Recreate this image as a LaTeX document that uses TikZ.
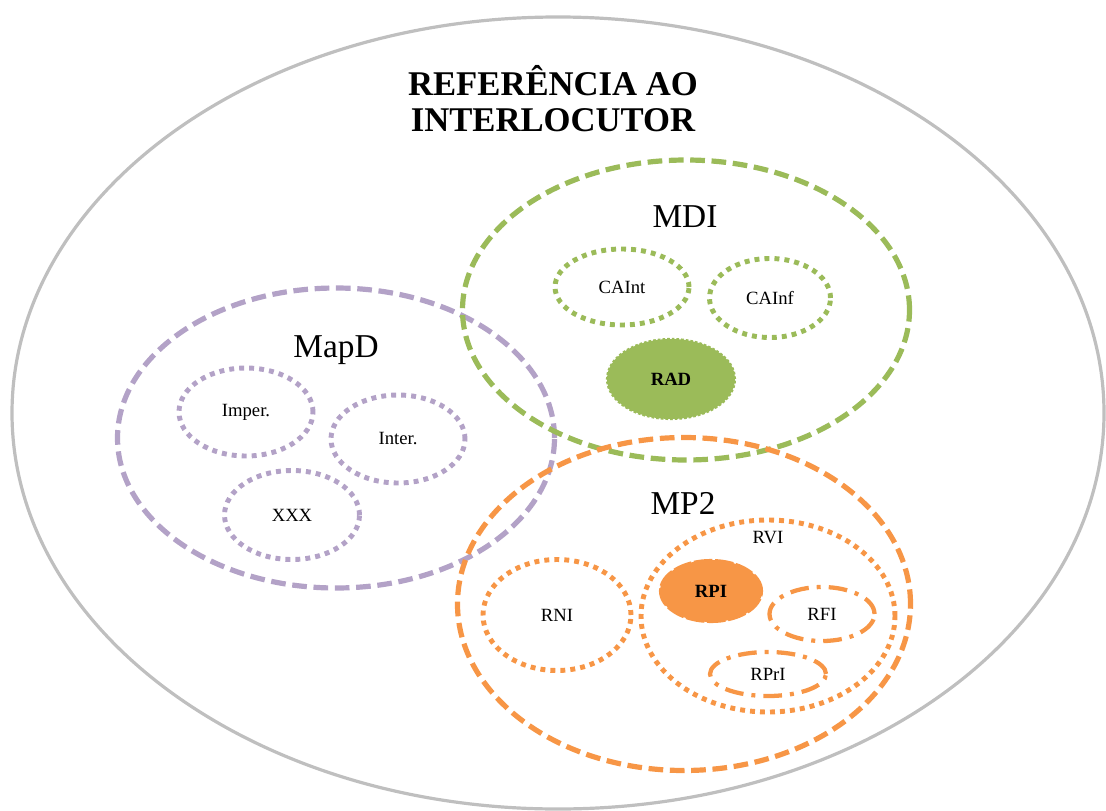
\documentclass[tikz,border=0pt]{standalone}
\usepackage{fontspec}
\setmainfont{Liberation Serif}
\usetikzlibrary{shapes.geometric, positioning}
\definecolor{cgreen}{HTML}{9BBB59}
\definecolor{cpurple}{HTML}{B3A2C7}
\definecolor{corange}{HTML}{F79646}
\definecolor{cgrey}{HTML}{BFBFBF}
\tikzset{
  every picture/.style={x=0.75pt, y=-0.75pt},
  region/.style 2 args={ellipse, inner sep=0pt, minimum width=#1*0.75pt, minimum height=#2*0.75pt, font=\fontsize{14}{16}\selectfont},
  dashline/.style={draw=#1, line width=3.9pt, dash pattern=on 11pt off 5pt},
  dotline/.style={draw=#1, line width=3.7pt, dash pattern=on 3.7pt off 3.8pt},
  dashdotline/.style={draw=#1, line width=3.2pt, dash pattern=on 14pt off 6pt on 3pt off 6pt},
  core/.style={fill=#1, draw=#1, line width=1.6pt, dash pattern=on 2pt off 1.5pt, font=\bfseries\fontsize{14}{16}\selectfont},
  title/.style={font=\bfseries\fontsize{26}{27}\selectfont, align=center},
  biglabel/.style={font=\fontsize{25}{27}\selectfont, anchor=base},
  smalllabel/.style={font=\fontsize{14}{16}\selectfont, anchor=base},
}

\begin{document}
\begin{tikzpicture}
  \useasboundingbox (0,0) rectangle (1106,810);
  \node[region={1092}{792}, draw=cgrey, line width=2.4pt] (world) at (558,413) {};
  \node[title] (title) at (553,99) {REFERÊNCIA AO\\INTERLOCUTOR};
  % three main sets
  \node[region={437}{300}, dashline=cpurple] (mapd) at (336,438) {};
  \node[region={447}{300}, dashline=cgreen] (mdi) at (686,310) {};
  \node[region={453}{333}, dashline=corange] (mp2) at (684,604) {};
  \node[biglabel] (mapdlabel) at (336,357) {MapD};
  \node[biglabel] (mdilabel) at (685,227) {MDI};
  \node[biglabel] (mp2label) at (683,514) {MP2};
  % MapD
  \node[region={134}{88}, dotline=cpurple] (imper) at (246,412) {Imper.};
  \node[region={134}{88}, dotline=cpurple] (inter) at (398,439) {Inter.};
  \node[region={135}{89}, dotline=cpurple] (xxx) at (292,515) {XXX};
  % MDI
  \node[region={134}{76}, dotline=cgreen] (caint) at (622,287) {CAInt};
  \node[region={121}{79}, dotline=cgreen] (cainf) at (770,298) {CAInf};
  \node[region={128}{80}, core=cgreen] (rad) at (671,379) {RAD};
  % MP2
  \node[region={148}{111}, dotline=corange] (rni) at (557,615) {RNI};
  \node[region={254}{192}, dotline=corange] (rvi) at (768,616) {};
  \node[smalllabel] (rvilabel) at (768,543) {RVI};
  \node[region={102}{62}, core=corange, dash pattern=on 14pt off 2pt] (rpi) at (711,591) {RPI};
  \node[region={105}{54}, dashdotline=corange] (rfi) at (822,614) {RFI};
  \node[region={116}{44}, dashdotline=corange] (rpri) at (768,674) {RPrI};
\end{tikzpicture}
\end{document}
